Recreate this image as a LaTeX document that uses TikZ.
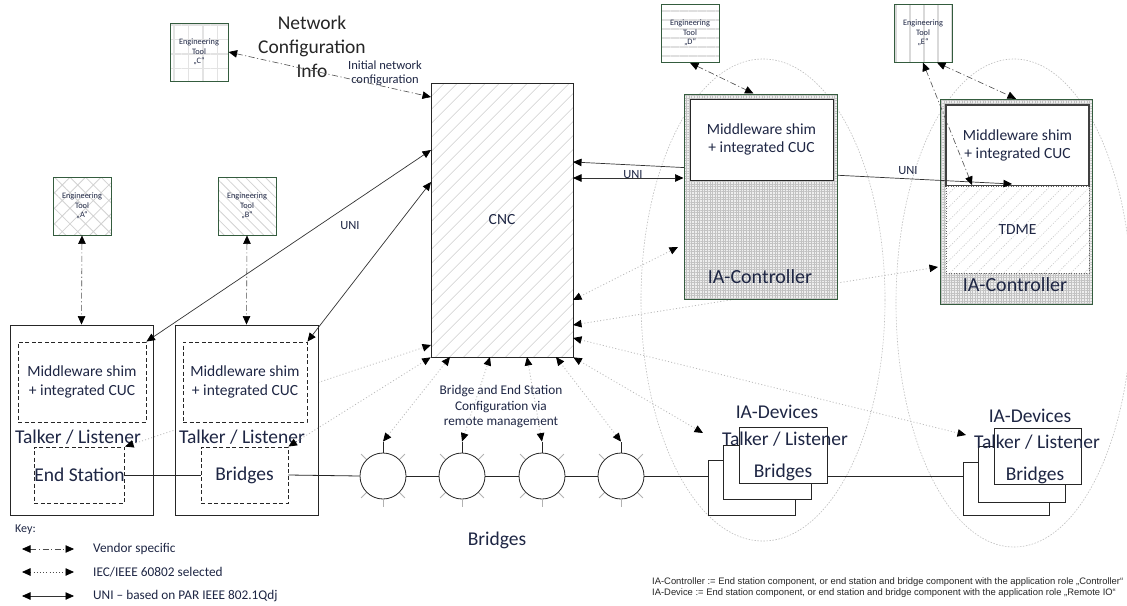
\documentclass[tikz,border=0pt]{standalone}
\usepackage{fontspec}
\setmainfont{Carlito}
\newfontfamily\arialf{Liberation Sans}
\usetikzlibrary{arrows.meta,patterns.meta,calc}
\definecolor{ink}{RGB}{30,38,68}
\definecolor{toolgreen}{RGB}{52,92,62}
\newcommand\fsz[2]{\fontsize{#1}{#2}\selectfont}
\begin{document}
\begin{tikzpicture}[x=1pt,y=-1pt,
  >={Triangle[length=8.5pt,width=7.5pt,color=black]},
  lbl/.style={text=ink, inner sep=0pt, align=center},
  toolbox/.style={draw=toolgreen, line width=1pt, minimum width=58pt, minimum height=58pt,
    inner sep=0pt, align=center, text=ink, font=\fsz{8.3}{9.6}, preaction={fill=white}},
  vend/.style={<->, draw=black!70, line width=.6pt, dash pattern=on 6pt off 2.5pt on 1.2pt off 2.5pt},
  iec/.style={<->, draw=gray!55, line width=.8pt, dash pattern=on 1pt off 2.2pt},
  uni/.style={<->, draw=black!80, line width=.7pt},
  solidbox/.style={draw=black!85, line width=.9pt, fill=white, inner sep=0pt},
  dashbox/.style={draw=black!85, line width=.9pt, dash pattern=on 4pt off 2.5pt, fill=white,
    inner sep=0pt, align=center, text=ink},
  bridgec/.style={circle, draw=black!85, line width=.8pt, fill=white, minimum size=46pt, inner sep=0pt},
  tickline/.style={draw=gray!60, line width=.8pt},
  ctrlbox/.style={draw=toolgreen, line width=1pt, inner sep=0pt, preaction={fill=gray!13},
    pattern={Hatch[angle=0,distance=2.6pt,line width=.45pt]}, pattern color=gray!48},
  zone/.style={draw=gray!50, line width=.6pt, dash pattern=on 1.5pt off 1.5pt},
  link/.style={draw=black!85, line width=.8pt},
]
\useasboundingbox (0,0) rectangle (1127,605);
\fill[white] (0,0) rectangle (1127,605);

% application zones
\draw[zone] (763,300) ellipse [x radius=122pt, y radius=241pt];
\draw[zone] (1014,303) ellipse [x radius=118pt, y radius=244pt];

% engineering tools
\node[toolbox, pattern={Hatch[angle=0,distance=14.5pt,line width=1.2pt]}, pattern color=gray!22] (toolC) at (199,52) {Engineering\\Tool\\„C“};
\node[toolbox, pattern={Hatch[angle=45,distance=11pt,line width=.8pt]}, pattern color=gray!35] (toolA) at (82,206) {Engineering\\Tool\\„A“};
\node[toolbox, pattern={Lines[angle=-45,distance=7pt,line width=.8pt]}, pattern color=gray!35] (toolB) at (247,206) {Engineering\\Tool\\„B“};
\node[toolbox, pattern={Lines[angle=0,distance=9pt,line width=1.5pt]}, pattern color=gray!25] (toolD) at (690,33) {Engineering\\Tool\\„D“};
\node[toolbox, pattern={Lines[angle=90,distance=14pt,line width=1.2pt]}, pattern color=gray!30] (toolE) at (923,33) {Engineering\\Tool\\„E“};

\node[lbl, text=black!85, font=\fsz{19.5}{24}] (netinfo) at (312,47) {Network\\Configuration\\Info};
\node[lbl, font=\fsz{12.5}{14.5}] (initcfg) at (385,73) {Initial network\\configuration};

% CNC
\node[draw=black!85, line width=.9pt, minimum width=142pt, minimum height=274pt, inner sep=0pt,
  preaction={fill=white}, pattern={Lines[angle=45,distance=10.5pt,line width=.7pt]},
  pattern color=gray!38, text=ink, font=\fsz{15.5}{18}] (cnc) at (502,220) {CNC};
\coordinate (cnL1) at (431,97);
\coordinate (cnL2) at (431,150);
\coordinate (cnL3) at (431,182);
\coordinate (cnL4) at (431,345);
\coordinate (cnB0) at (cnc.south west);
\coordinate (cnB1) at (450,357);
\coordinate (cnB2) at (490,357);
\coordinate (cnB3) at (527,357);
\coordinate (cnB4) at (556,357);
\coordinate (cnB5) at (cnc.south east);
\coordinate (cnR1) at (573,162);
\coordinate (cnR2) at (573,178);
\coordinate (cnR3) at (573,300);
\coordinate (cnR4) at (573,325);
\coordinate (cnR5) at (573,338);

% end station with integrated CUC
\node[solidbox, minimum width=143pt, minimum height=190pt] (box1) at (81.5,420) {};
\node[dashbox, minimum width=128pt, minimum height=80pt, font=\fsz{15.5}{18.5}] (mw1) at (82,382) {Middleware shim\\+ integrated CUC};
\node[lbl, font=\fsz{19.5}{22}] (tl1) at (78,437) {Talker / Listener};
\node[dashbox, minimum width=89pt, minimum height=56pt, font=\fsz{19.5}{22}] (es) at (79.5,475) {End Station};
\draw[iec] (es.north east) -- (cnL4);

% bridge with integrated CUC
\node[solidbox, minimum width=143pt, minimum height=190pt] (box2) at (246.5,420) {};
\node[dashbox, minimum width=124pt, minimum height=80pt, font=\fsz{15.5}{18.5}] (mw2) at (245,382) {Middleware shim\\+ integrated CUC};
\node[lbl, font=\fsz{19.5}{22}] (tl2) at (242,437) {Talker / Listener};
\node[dashbox, minimum width=87pt, minimum height=56pt, font=\fsz{19.5}{22}] (br) at (244.5,475) {Bridges};
\draw[iec] (br.north east) -- (cnB0);

% UNI and vendor links on the left
\draw[uni] (cnL2) -- (mw1.north east);
\draw[uni] (cnL3) -- (mw2.north east);
\node[lbl, font=\fsz{12.5}{14}] (uniA) at (350,226) {UNI};
\draw[vend] (toolA.south) -- (box1.north);
\draw[vend] (toolB.south) -- (box2.north);
\draw[vend] (toolC.east) -- (cnL1);

% bridged network
\draw[link] (es.east) -- (br.west);
\foreach \i/\cx in {1/383,2/462,3/542,4/621} {
  \node[bridgec] (c\i) at (\cx,476) {};
  \foreach \a in {45,135,225,315}
    \draw[tickline] ($(c\i.center)+(\a:24)$) -- ($(c\i.center)+(\a:31)$);
  \draw[tickline] (c\i.south) -- ++(0,8);
  \draw[link] (c\i.north) -- ++(0,-11) coordinate (s\i);
}
\draw[link] (br.east) -- (c1.west);
\draw[link] (c1.east) -- (c2.west);
\draw[link] (c2.east) -- (c3.west);
\draw[link] (c3.east) -- (c4.west);
\node[lbl, font=\fsz{13.3}{15.5}] (remmgmt) at (501,407) {Bridge and End Station\\Configuration via\\remote management};
\node[lbl, font=\fsz{19.5}{22}] (brlabel) at (497,540) {Bridges};

\draw[iec] (s1) -- (cnB1);
\draw[iec] (s2) -- (cnB2);
\draw[iec] (s3) -- (cnB3);
\draw[iec] (s4) -- (cnB4);

% remote management towards the IA devices and controllers
\coordinate (dev1) at (703,433);
\coordinate (dev2) at (966,435);
\coordinate (ctl1in) at (678,247);
\coordinate (ctl2in) at (938,267);
\draw[iec] (cnB5) -- (dev1);
\draw[iec] (cnR3) -- (ctl1in);
\draw[iec] (cnR4) -- (ctl2in);
\draw[iec] (cnR5) -- (dev2);

% IA devices
\node[solidbox, minimum width=87pt, minimum height=55pt] (g1b) at (751.5,487.5) {};
\draw[link] (c4.east) -- (c4.east -| g1b.west);
\node[solidbox, minimum width=88pt, minimum height=54pt] (g1m) at (767,472) {};
\node[solidbox, minimum width=88pt, minimum height=56pt] (g1f) at (783,455) {};
\node[solidbox, minimum width=86pt, minimum height=53pt] (g2b) at (1006,488.5) {};
\draw[link] (g1f.east |- c4.east) -- (g2b.west |- c4.east);
\node[solidbox, minimum width=87pt, minimum height=56pt] (g2m) at (1021.5,474) {};
\node[solidbox, minimum width=87pt, minimum height=56pt] (g2f) at (1037.5,456) {};
\node[lbl, font=\fsz{19.5}{22}] (d1a) at (777,412) {IA-Devices};
\node[lbl, font=\fsz{19.5}{22}] (d1b) at (785,439) {Talker / Listener};
\node[lbl, font=\fsz{19.5}{22}] (d1c) at (783,472) {Bridges};
\node[lbl, font=\fsz{19.5}{22}] (d2a) at (1030,416) {IA-Devices};
\node[lbl, font=\fsz{19.5}{22}] (d2b) at (1037,442) {Talker / Listener};
\node[lbl, font=\fsz{19.5}{22}] (d2c) at (1035,475) {Bridges};

% IA controller with TDME
\node[ctrlbox, minimum width=152pt, minimum height=205pt] (ctrl2) at (1016,201.5) {};
\node[draw=black!75, line width=1.6pt, fill=white, minimum width=143pt, minimum height=81pt, inner sep=0pt,
  align=center, text=ink, font=\fsz{15.5}{18.5}] (mw4) at (1017.5,145.5) {Middleware shim\\+ integrated CUC};
\node[draw=black!60, line width=.8pt, dash pattern=on 1pt off 1.5pt, minimum width=143pt, minimum height=87pt,
  inner sep=0pt, preaction={fill=white}, pattern={Lines[angle=45,distance=9.5pt,line width=.7pt]},
  pattern color=gray!40, text=ink, font=\fsz{15.5}{18}] (tdme) at (1017.5,229.5) {TDME};
\node[lbl, font=\fsz{20}{22}] (ctl2lbl) at (1015,285) {IA-Controller};
\coordinate (u2end) at (1012,184);
\coordinate (u2mid) at (972,185);
\draw[uni] (cnR1) -- (u2end);
\node[lbl, font=\fsz{12.5}{14}] (uniC) at (908,171) {UNI};

% IA controller
\node[ctrlbox, minimum width=153pt, minimum height=205pt] (ctrl1) at (760.5,196.5) {};
\node[solidbox, line width=1pt, minimum width=143pt, minimum height=81pt, align=center, text=ink,
  font=\fsz{15.5}{18.5}] (mw3) at (761.5,139.5) {Middleware shim\\+ integrated CUC};
\node[lbl, font=\fsz{20}{22}] (ctl1lbl) at (760,277) {IA-Controller};
\draw[uni] (cnR2) -- (cnR2 -| ctrl1.west);
\node[lbl, font=\fsz{12.5}{14}] (uniB) at (633,175) {UNI};

\draw[vend] (toolD.south) -- ($(ctrl1.north)+(-7,0)$);
\draw[vend] ($(toolE.south)+(14,0)$) -- (ctrl2.north);
\draw[vend] (toolE.south) -- (u2mid);

% key
\node[lbl, anchor=west, font=\fsz{12}{14}] (keyt) at (15,530) {Key:};
\coordinate (k1a) at (22,549); \coordinate (k1b) at (74,549);
\coordinate (k2a) at (22,572); \coordinate (k2b) at (74,572);
\coordinate (k3a) at (22,596); \coordinate (k3b) at (74,596);
\draw[vend] (k1a) -- (k1b);
\draw[iec, draw=black!70] (k2a) -- (k2b);
\draw[uni] (k3a) -- (k3b);
\node[lbl, anchor=west, font=\fsz{13.3}{15}] (kt1) at (93,549) {Vendor specific};
\node[lbl, anchor=west, font=\fsz{13.3}{15}] (kt2) at (93,572) {IEC/IEEE 60802 selected};
\node[lbl, anchor=west, font=\fsz{13.3}{15}] (kt3) at (93,596) {UNI – based on PAR IEEE 802.1Qdj};

% definitions
\node[anchor=west, inner sep=0pt, align=left, text=black!85, font=\arialf\fsz{9.4}{11}] (defs) at (652,588)
  {IA-Controller := End station component, or end station and bridge component with the application role „Controller“\\
   IA-Device := End station component, or end station and bridge component with the application role „Remote IO“};
\end{tikzpicture}
\end{document}
